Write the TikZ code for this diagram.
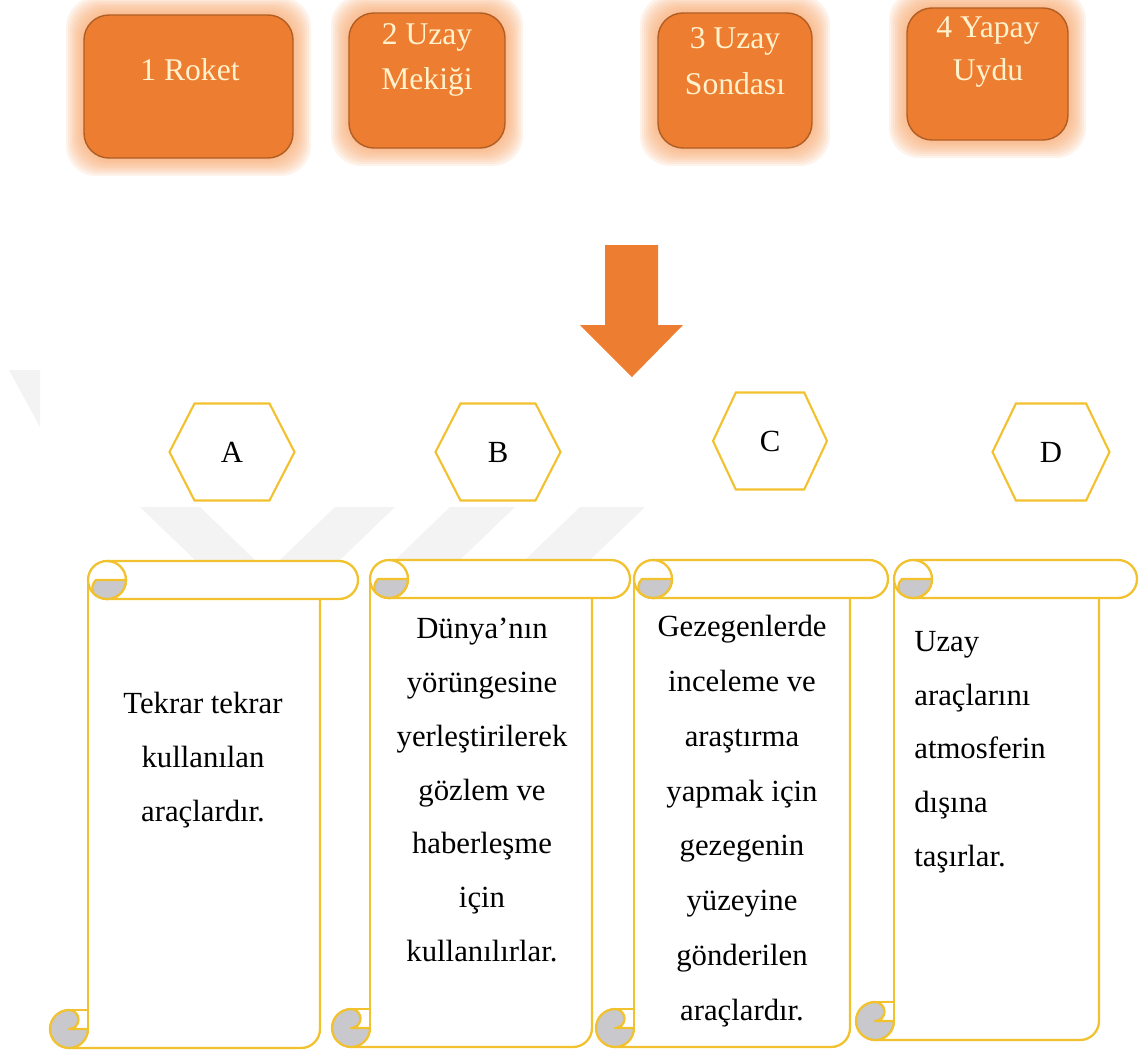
\documentclass[tikz,border=0pt]{standalone}
\usepackage{fontspec}
\setmainfont{Liberation Serif}
\usepackage{xcolor}
\definecolor{spaceorange}{HTML}{ED7D31}
\definecolor{spaceedge}{HTML}{B05E24}
\definecolor{glowpeach}{HTML}{F7A468}
\definecolor{boxcream}{HTML}{FFF2CC}
\definecolor{scrollgold}{HTML}{F2C12E}
\definecolor{curlgrey}{HTML}{C8C8CD}
\definecolor{markgrey}{HTML}{F3F3F3}

% #1 body left, #2 roll right, #3 top, #4 bottom (pixels)
\newcommand{\scrollpaper}[4]{%
  \fill[white, rounded corners=0.38cm] (#1,#3+19) -- (#2-38,#3+19) -- (#2-38,#4) -- (#1,#4) -- cycle;
  \draw[scrollline] (#1,#3+19) -- (#1,#4-19);
  \draw[scrollline, rounded corners=0.38cm] (#2-38,#3+38) -- (#2-38,#4) -- (#1-19,#4);
  \filldraw[scrollline, fill=white, rounded corners=0.38cm] (#1,#3) rectangle (#2,#3+38);
  \draw[scrollline] (#1+19,#3) arc[start angle=90, end angle=-90, radius=0.38cm];
  \filldraw[scrollline, fill=curlgrey] (#1+38,#3+19) arc[start angle=0, end angle=-135, radius=0.38cm]
    to[bend left=35] (#1+8,#3+19) -- cycle;
  \filldraw[scrollline, fill=curlgrey] (#1-19,#4-38) arc[start angle=90, end angle=360, radius=0.38cm]
    -- (#1-19,#4-19) arc[start angle=-90, end angle=90, radius=0.19cm] -- cycle;
  \draw[scrollline] (#1-19,#4-38) -- (#1,#4-38);
}

\begin{document}
\begin{tikzpicture}[x=0.02cm, y=-0.02cm,
  vehbox/.style={rectangle, rounded corners=0.5cm, fill=spaceorange, draw=spaceedge, line width=0.8pt, inner sep=0pt},
  vehtext/.style={text=boxcream, font=\fontsize{18}{26}\selectfont, align=center, inner sep=0pt},
  hexline/.style={draw=scrollgold, line width=1.2pt, fill=white},
  scrollline/.style={draw=scrollgold, line width=1.3pt, line join=round},
  scrolltext/.style={font=\fontsize{17.5}{30.6}\selectfont, inner sep=0pt}]
\useasboundingbox (0,0) rectangle (1139,1052);

% faint watermark
\fill[markgrey] (9,370) -- (40,370) -- (40,427) -- cycle;
\fill[markgrey] (140,507) -- (200,507) -- (255,560) -- (195,560) -- cycle;
\fill[markgrey] (335,507) -- (395,507) -- (340,560) -- (280,560) -- cycle;
\fill[markgrey] (450,507) -- (515,507) -- (460,560) -- (395,560) -- cycle;
\fill[markgrey] (580,507) -- (645,507) -- (590,560) -- (525,560) -- cycle;

% glow round the vehicle boxes
\foreach \x/\y/\w/\h in {188.5/86.5/209/143, 427/80.5/156/135, 735/80.5/154/135, 987.5/74/161/132}
  \foreach \g in {18,16,...,2}
    \fill[glowpeach, opacity=0.13, rounded corners=0.6cm]
      (\x-\w/2-\g,\y-\h/2-\g) rectangle (\x+\w/2+\g,\y+\h/2+\g);

\foreach \n/\x/\y/\w/\h in {roket/188.5/86.5/209/143, mekik/427/80.5/156/135, sonda/735/80.5/154/135, uydu/987.5/74/161/132}
  \node[vehbox, minimum width=\w*0.02cm, minimum height=\h*0.02cm] (\n) at (\x,\y) {};

\node[vehtext] (roketlbl) at (190,70) {1 Roket};
\node[vehtext] (mekiklbl) at (427,60) {2 Uzay\\Mekiği};
\node[vehtext] (sondalbl) at (735,61) {3 Uzay\\Sondası};
\node[vehtext, font=\fontsize{18}{25}\selectfont] (uydulbl) at (988,52) {4 Yapay\\Uydu};

% big arrow
\fill[spaceorange] (605,245) -- (658,245) -- (658,325) -- (683,325) -- (632,377) -- (580,325) -- (605,325) -- cycle;

% letters
\foreach \n/\x/\y/\w/\l in {hexA/232/452/125/A, hexB/498/452/125/B, hexC/770/441/114/C, hexD/1051/452/117/D}{
  \path[hexline] (\x-\w*0.5,\y) -- (\x-\w*0.3,\y-48.5) -- (\x+\w*0.3,\y-48.5) -- (\x+\w*0.5,\y)
    -- (\x+\w*0.3,\y+48.5) -- (\x-\w*0.3,\y+48.5) -- cycle;
  \node[scrolltext] (\n) at (\x,\y) {\l};
}

% scrolls
\scrollpaper{88}{358}{561}{1048}
\scrollpaper{370}{630}{560}{1047}
\scrollpaper{634}{888}{560}{1047}
\scrollpaper{894}{1137}{560}{1040}

\node[scrolltext, align=center] (txtA) at (203,760) {Tekrar tekrar\\kullanılan\\araçlardır.};
\node[scrolltext, align=center] (txtB) at (482,790) {Dünya’nın\\yörüngesine\\yerleştirilerek\\gözlem ve\\haberleşme\\için\\kullanılırlar.};
\node[scrolltext, align=center, font=\fontsize{17.5}{31.2}\selectfont] (txtC) at (742,821) {Gezegenlerde\\inceleme ve\\araştırma\\yapmak için\\gezegenin\\yüzeyine\\gönderilen\\araçlardır.};
\node[scrolltext, align=left, anchor=west] (txtD) at (914,752) {Uzay\\araçlarını\\atmosferin\\dışına\\taşırlar.};
\end{tikzpicture}
\end{document}
